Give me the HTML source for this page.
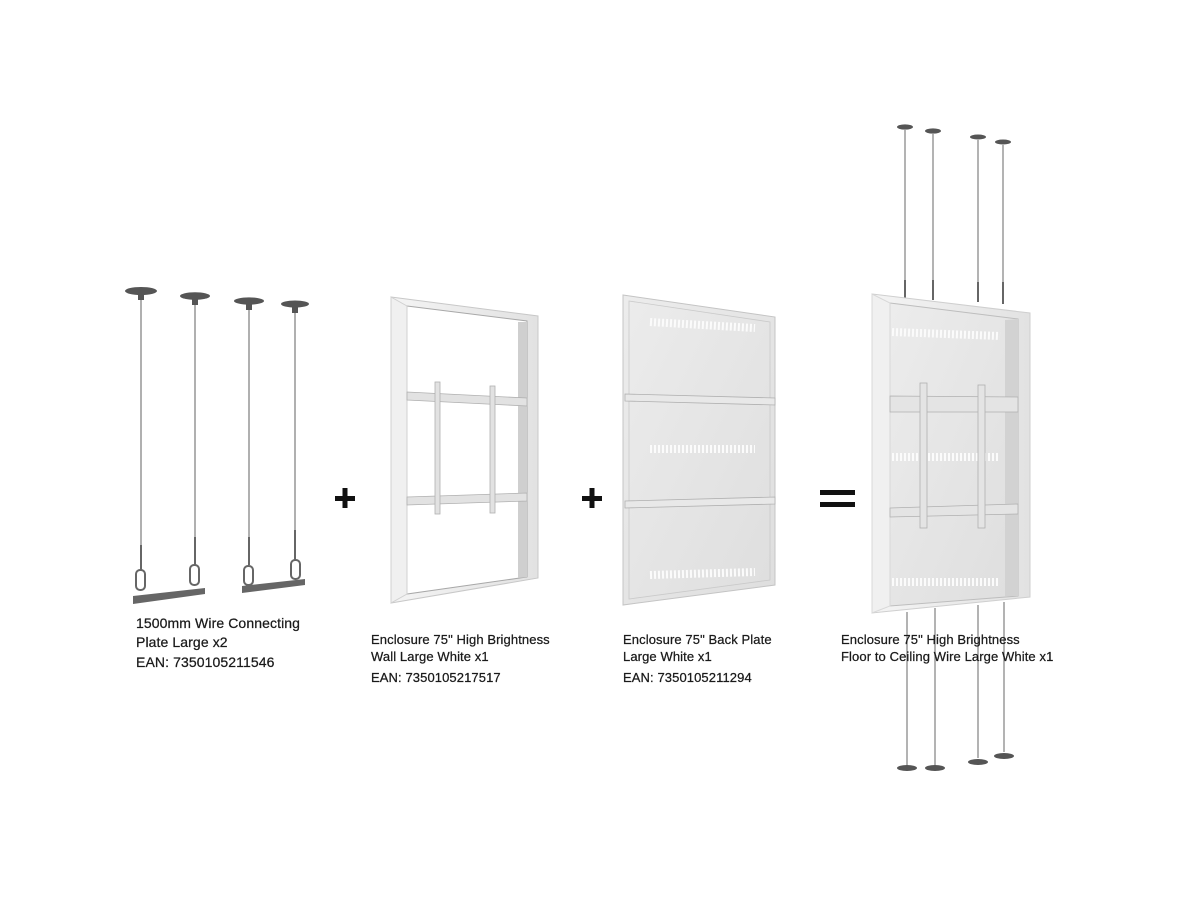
<!DOCTYPE html>
<html><head><meta charset="utf-8"><style>
html,body{margin:0;padding:0;background:#fff;}
#w{position:relative;width:1200px;height:900px;overflow:hidden;font-family:"Liberation Sans",Arial,sans-serif;color:#1a1a1a;}
.t{position:absolute;font-size:13px;line-height:17px;white-space:nowrap;letter-spacing:0.1px;-webkit-text-stroke:0.25px #1a1a1a}
.t1{font-size:14px;line-height:19px}
svg{position:absolute;left:0;top:0}
</style></head><body><div id="w">
<svg width="1200" height="900" viewBox="0 0 1200 900">
<defs>
<linearGradient id="pl" x1="0" y1="0" x2="1" y2="1"><stop offset="0" stop-color="#ececec"/><stop offset="1" stop-color="#dedede"/></linearGradient>
<linearGradient id="side" x1="0" x2="1"><stop offset="0" stop-color="#f4f4f4"/><stop offset="1" stop-color="#e2e2e2"/></linearGradient>
</defs>
<g stroke="#8f8f8f" stroke-width="1.4" fill="none">
<line x1="141" y1="296" x2="141" y2="545"/><line x1="195" y1="301" x2="195" y2="540"/>
<line x1="249" y1="306" x2="249" y2="537"/><line x1="295" y1="309" x2="295" y2="533"/>
</g>
<g fill="#555">
<ellipse cx="141" cy="291" rx="16" ry="4"/><ellipse cx="195" cy="296" rx="15" ry="3.8"/>
<ellipse cx="249" cy="301" rx="15" ry="3.6"/><ellipse cx="295" cy="304" rx="14" ry="3.5"/>
<rect x="138" y="293" width="6" height="7"/><rect x="192" y="298" width="6" height="7"/><rect x="246" y="303" width="6" height="7"/><rect x="292" y="306" width="6" height="7"/>
</g>
<g stroke="#666" stroke-width="2" fill="none">
<line x1="141" y1="545" x2="141" y2="570"/><line x1="195" y1="537" x2="195" y2="565"/>
<line x1="249" y1="537" x2="249" y2="565"/><line x1="295" y1="530" x2="295" y2="560"/>
<rect x="136" y="570" width="9" height="20" rx="4"/><rect x="190" y="565" width="9" height="20" rx="4"/>
<rect x="244" y="566" width="9" height="19" rx="4"/><rect x="291" y="560" width="9" height="19" rx="4"/>
</g>
<polygon points="133,596 205,588 205,594 133,604" fill="#666"/>
<polygon points="242,586 305,579 305,585 242,593" fill="#666"/>
<g fill="#111"><rect x="335" y="496" width="20" height="5"/><rect x="342.5" y="488" width="5" height="20"/>
<rect x="582" y="496" width="20" height="5"/><rect x="589.5" y="488" width="5" height="20"/>
<rect x="820" y="490" width="35" height="5"/><rect x="820" y="502" width="35" height="5"/></g>
<polygon points="391,297 538,316 538,578 391,603" fill="url(#side)" stroke="#c8c8c8"/>
<polygon points="407,306 527,321 527,577 407,594" fill="#fff" stroke="#a8a8a8"/>
<polygon points="518,322 527,322 527,577 518,578" fill="#cfcfcf"/>
<polygon points="391,297 407,306 407,594 391,603" fill="#f0f0f0" stroke="#d0d0d0"/>
<g fill="#e2e2e2" stroke="#b0b0b0" stroke-width="0.8">
<polygon points="407,392 527,398 527,406 407,400"/><polygon points="407,497 527,493 527,501 407,505"/>
<rect x="435" y="382" width="5" height="132"/><rect x="490" y="386" width="5" height="127"/>
</g>
<polygon points="623,295 775,317 775,585 623,605" fill="url(#pl)" stroke="#c4c4c4"/>
<polygon points="629,301 770,322 770,580 629,599" fill="none" stroke="#cacaca" stroke-width="0.8"/>
<g stroke="#b0b0b0" stroke-width="0.8" fill="#e8e8e8">
<polygon points="625,394 775,398 775,405 625,401"/><polygon points="625,501 775,497 775,504 625,508"/>
</g>
<g stroke="#fbfbfb" stroke-width="8" stroke-dasharray="2 2">
<line x1="650" y1="322" x2="755" y2="328"/><line x1="650" y1="449" x2="755" y2="449"/><line x1="650" y1="575" x2="755" y2="572"/>
</g>
<g stroke="#8a8a8a" stroke-width="1.3">
<line x1="905" y1="130" x2="905" y2="300"/><line x1="933" y1="134" x2="933" y2="300"/>
<line x1="978" y1="140" x2="978" y2="300"/><line x1="1003" y1="145" x2="1003" y2="300"/>
<line x1="907" y1="612" x2="907" y2="765"/><line x1="935" y1="608" x2="935" y2="765"/>
<line x1="978" y1="605" x2="978" y2="758"/><line x1="1004" y1="602" x2="1004" y2="752"/>
</g>
<g fill="#555">
<ellipse cx="905" cy="127" rx="8" ry="2.6"/><ellipse cx="933" cy="131" rx="8" ry="2.6"/><ellipse cx="978" cy="137" rx="8" ry="2.5"/><ellipse cx="1003" cy="142" rx="8" ry="2.5"/>
<ellipse cx="907" cy="768" rx="10" ry="3"/><ellipse cx="935" cy="768" rx="10" ry="3"/><ellipse cx="978" cy="762" rx="10" ry="3"/><ellipse cx="1004" cy="756" rx="10" ry="3"/>
</g>
<g stroke="#666" stroke-width="2"><line x1="905" y1="280" x2="905" y2="298"/><line x1="933" y1="280" x2="933" y2="300"/><line x1="978" y1="282" x2="978" y2="302"/><line x1="1003" y1="282" x2="1003" y2="304"/></g>
<polygon points="872,294 1030,313 1030,597 872,613" fill="url(#side)" stroke="#cfcfcf"/>
<polygon points="890,303 1018,319 1018,596 890,606" fill="url(#pl)" stroke="#bdbdbd"/>
<polygon points="872,294 890,303 890,606 872,613" fill="#f0f0f0" stroke="#d8d8d8"/>
<polygon points="1005,320 1018,319 1018,596 1005,596" fill="#d2d2d2"/>
<g stroke="#fbfbfb" stroke-width="8" stroke-dasharray="2 2">
<line x1="892" y1="332" x2="1000" y2="336"/><line x1="892" y1="457" x2="1000" y2="457"/><line x1="892" y1="582" x2="1000" y2="582"/>
</g>
<g fill="#e4e4e4" stroke="#b0b0b0" stroke-width="0.8">
<polygon points="890,396 1018,397 1018,412 890,412"/><polygon points="890,508 1018,504 1018,514 890,517"/>
<rect x="920" y="383" width="7" height="145"/><rect x="978" y="385" width="7" height="143"/>
</g>
</svg>
<div class="t t1" style="left:136px;top:614px">1500mm Wire Connecting<br>Plate Large x2</div>
<div class="t t1" style="left:136px;top:653px">EAN: 7350105211546</div>
<div class="t" style="left:371px;top:631px">Enclosure 75" High Brightness<br>Wall Large White x1</div>
<div class="t" style="left:371px;top:669px">EAN: 7350105217517</div>
<div class="t" style="left:623px;top:631px">Enclosure 75" Back Plate<br>Large White x1</div>
<div class="t" style="left:623px;top:669px">EAN: 7350105211294</div>
<div class="t" style="left:841px;top:631px">Enclosure 75" High Brightness<br>Floor to Ceiling Wire Large White x1</div>
</div></body></html>
